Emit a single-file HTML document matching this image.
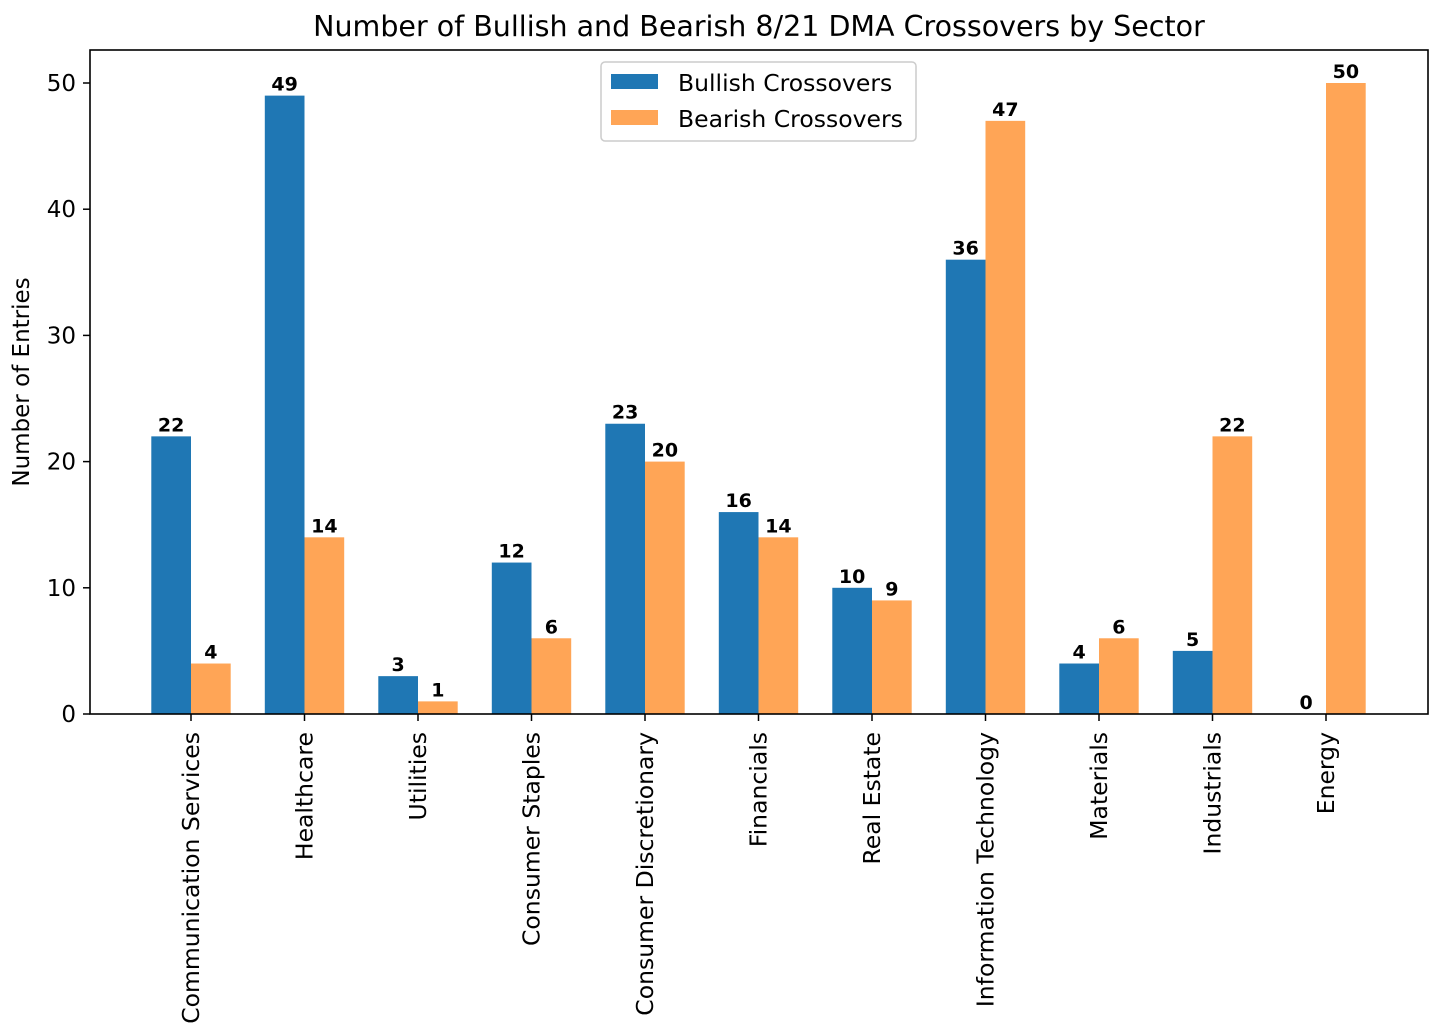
<!DOCTYPE html>
<html><head><meta charset="utf-8"><style>
body{margin:0;background:#fff}
svg{display:block;font-family:"DejaVu Sans","Liberation Sans",sans-serif}
</style></head><body>
<svg id="chart" width="1434" height="1030" viewBox="0 0 1434 1030" xmlns="http://www.w3.org/2000/svg">
<rect width="1434" height="1030" fill="#fff"/>
<text x="759" y="36" font-size="28.5" text-anchor="middle">Number of Bullish and Bearish 8/21 DMA Crossovers by Sector</text>
<text transform="translate(29,382) rotate(-90)" font-size="23" text-anchor="middle">Number of Entries</text>
<g id="bars"></g>
<g id="yticks"></g>
<g id="xticks"></g>
<rect x="90" y="50" width="1338" height="664" fill="none" stroke="#000" stroke-width="1.6"/>
<g>
<rect x="601" y="62" width="315" height="79" rx="4" fill="#fff" stroke="#ccc" stroke-width="1.5"/>
<rect x="611" y="74" width="47" height="15" fill="#1f77b4"/>
<text x="678" y="91" font-size="23.5">Bullish Crossovers</text>
<rect x="611" y="110" width="47" height="15" fill="#ffa556"/>
<text x="678" y="127" font-size="23.5">Bearish Crossovers</text>
</g>
</svg>
<script>
const categories=["Communication Services","Healthcare","Utilities","Consumer Staples","Consumer Discretionary","Financials","Real Estate","Information Technology","Materials","Industrials","Energy"];
const bullish=[22,49,3,12,23,16,10,36,4,5,0];
const bearish=[4,14,1,6,20,14,9,47,6,22,50];
const yTicks=[0,10,20,30,40,50];
const NS="http://www.w3.org/2000/svg";
function xPos(i){return 191+113.5*i;}
function yPos(v){return 714-v*12.62;}
const bw=39.7;
function mk(tag,attrs,parent,txt){const e=document.createElementNS(NS,tag);for(const k in attrs)e.setAttribute(k,attrs[k]);if(txt!==undefined)e.textContent=txt;parent.appendChild(e);return e;}
const gb=document.getElementById('bars');
categories.forEach((c,i)=>{
  [[bullish,'#1f77b4',-1,'bullish'],[bearish,'#ffa556',0,'bearish']].forEach(([arr,col,off,nm])=>{
    const v=arr[i];const x=xPos(i)+off*bw;
    const r=mk('rect',{x:x,y:yPos(v),width:bw,height:714-yPos(v),fill:col},gb);
    
    
    const t=mk('text',{x:x+bw/2,y:yPos(v)-5,'font-size':19,'font-weight':'bold','text-anchor':'middle'},gb,String(v));
    
    
  });
});
const gy=document.getElementById('yticks');
yTicks.forEach(v=>{
  mk('line',{x1:83,x2:90,y1:yPos(v),y2:yPos(v),stroke:'#000','stroke-width':1.5},gy);
  const t=mk('text',{x:76,y:yPos(v)+8,'font-size':23,'text-anchor':'end'},gy,String(v));
  
  
});
const gx=document.getElementById('xticks');
categories.forEach((c,i)=>{
  const x=xPos(i);
  mk('line',{x1:x,x2:x,y1:714,y2:721,stroke:'#000','stroke-width':1.5},gx);
  const t=mk('text',{transform:'translate('+(x+8)+',732) rotate(-90)','font-size':23.5,'text-anchor':'end'},gx,c);
  
  
});
</script>
</body></html>
